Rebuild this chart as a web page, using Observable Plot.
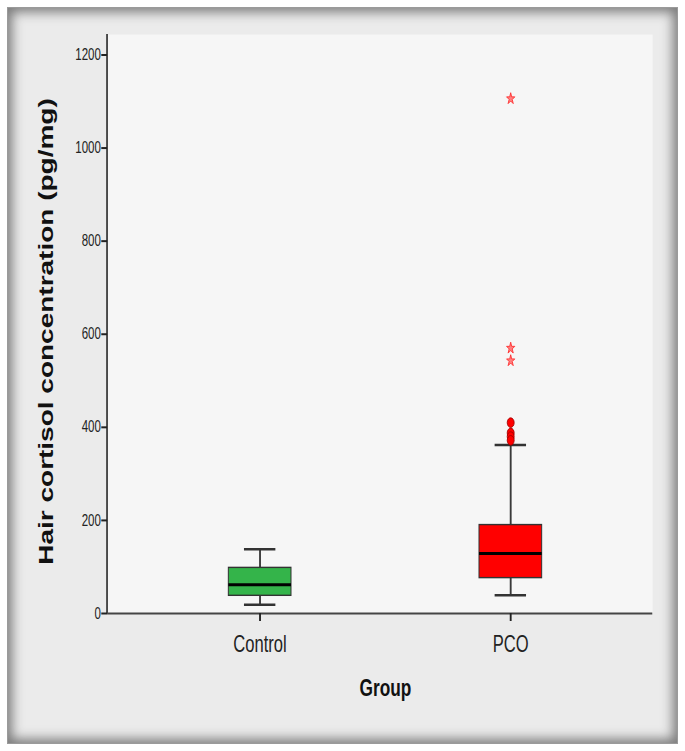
<!DOCTYPE html>
<html><head><meta charset="utf-8">
<script src="https://cdn.jsdelivr.net/npm/d3@7"></script>
<script src="https://cdn.jsdelivr.net/npm/@observablehq/plot@0.6"></script>
<style>
html,body{margin:0;padding:0;background:#fff;width:685px;height:751px;overflow:hidden}
#panel{position:absolute;left:7px;top:7px;width:669px;height:735px;background:#ebebeb;border:1px solid #9a9a9a;box-shadow:inset 0 0 12px 4px #7a7a7a;}
#chart{position:absolute;left:0;top:0;width:685px;height:751px}
</style></head><body>
<div id="panel"></div><div id="chart"></div>
<script>
// ---- data ----
const groups = ["Control", "PCO"];
const lowerWhisker = [19, 39];
const q1 = [38, 76];
const median = [62, 129];
const q3 = [98, 190];
const upperWhisker = [138, 362];
const outlierGroup = ["PCO", "PCO", "PCO", "PCO"];
const outlierValues = [410, 388, 380, 372];
const extremeGroup = ["PCO", "PCO", "PCO"];
const extremeValues = [1106, 570, 543];
const yTicks = [0, 200, 400, 600, 800, 1000, 1200];
const yTitle = "Hair cortisol concentration (pg/mg)";
const xTitle = "Group";

const rows = groups.map((g, i) => ({group: g, lo: lowerWhisker[i], q1: q1[i], med: median[i], q3: q3[i], hi: upperWhisker[i]}));
const outliers = outlierValues.map((v, i) => ({group: outlierGroup[i], value: v}));
const extremes = extremeValues.map((v, i) => ({group: extremeGroup[i], value: v}));

// the reference is horizontally compressed; draw wide and squeeze
const K = 0.72;
const W = Math.round(685 / K);
const mL = 107 / K, mR = W - 652 / K;

const leftLine = (index, scales, values, dim) =>
  d3.create("svg:line")
    .attr("x1", dim.marginLeft).attr("x2", dim.marginLeft)
    .attr("y1", dim.marginTop).attr("y2", dim.height - dim.marginBottom)
    .attr("stroke", "#444").attr("stroke-width", 2.6).node();

const svg = Plot.plot({
  width: W, height: 751,
  marginLeft: mL, marginRight: mR, marginTop: 34, marginBottom: 138,
  style: {background: "transparent", fontFamily: "'Liberation Sans', Arial, sans-serif", color: "#222"},
  x: {type: "band", domain: groups, range: [55.4, 1014.1], padding: 0.75, label: null},
  y: {domain: [0, 1244], label: null},
  color: {domain: groups, range: ["#34b44a", "#ff0000"]},
  marks: [
    Plot.frame({fill: "#f6f6f6", stroke: "none"}),
    Plot.ruleX(rows, {x: "group", y1: "lo", y2: "hi", stroke: "#3a3a3a", strokeWidth: 2.6}),
    Plot.tickY(rows, {x: "group", y: "lo", stroke: "#333", strokeWidth: 2.5, insetLeft: 21.7, insetRight: 21.7}),
    Plot.tickY(rows, {x: "group", y: "hi", stroke: "#333", strokeWidth: 2.5, insetLeft: 21.7, insetRight: 21.7}),
    Plot.barY(rows, {x: "group", y1: "q1", y2: "q3", fill: "group", stroke: "#333", strokeWidth: 1.4}),
    Plot.tickY(rows, {x: "group", y: "med", stroke: "#000", strokeWidth: 3}),
    Plot.dot(outliers, {x: "group", y: "value", r: 4.8, fill: "#ff0000", stroke: "#a00000", strokeWidth: 1}),
    Plot.dot(extremes, {x: "group", y: "value", symbol: "star", r: 3.6, fill: "#ff8080", stroke: "#ff2a2a", strokeWidth: 1}),
    Plot.ruleY([0], {stroke: "#444", strokeWidth: 2}),
    leftLine,
    Plot.axisY({ticks: yTicks, tickFormat: d3.format("d"), tickSize: 8, tickPadding: 1, fontSize: 16, label: null, strokeWidth: 2}),
    Plot.axisX({tickSize: 8, tickPadding: 14, fontSize: 23, label: null, strokeWidth: 2.6}),
    Plot.text([yTitle], {frameAnchor: "left", dx: 64 - mL, dy: 7.5, rotate: -90, fontSize: 28, fontWeight: "bold", textAnchor: "middle", fill: "#111"}),
    Plot.text([xTitle], {frameAnchor: "bottom", dx: 385 / K - (mL + (W - mR)) / 2, dy: 65, lineAnchor: "top", fontSize: 24, fontWeight: "bold", fill: "#111"})
  ]
});

svg.setAttribute("viewBox", `0 0 ${W} 751`);
svg.setAttribute("width", 685);
svg.setAttribute("height", 751);
svg.setAttribute("preserveAspectRatio", "none");
svg.style.width = "685px";
svg.style.height = "751px";
svg.style.maxWidth = "none";
document.getElementById("chart").appendChild(svg);
</script>
</body></html>
